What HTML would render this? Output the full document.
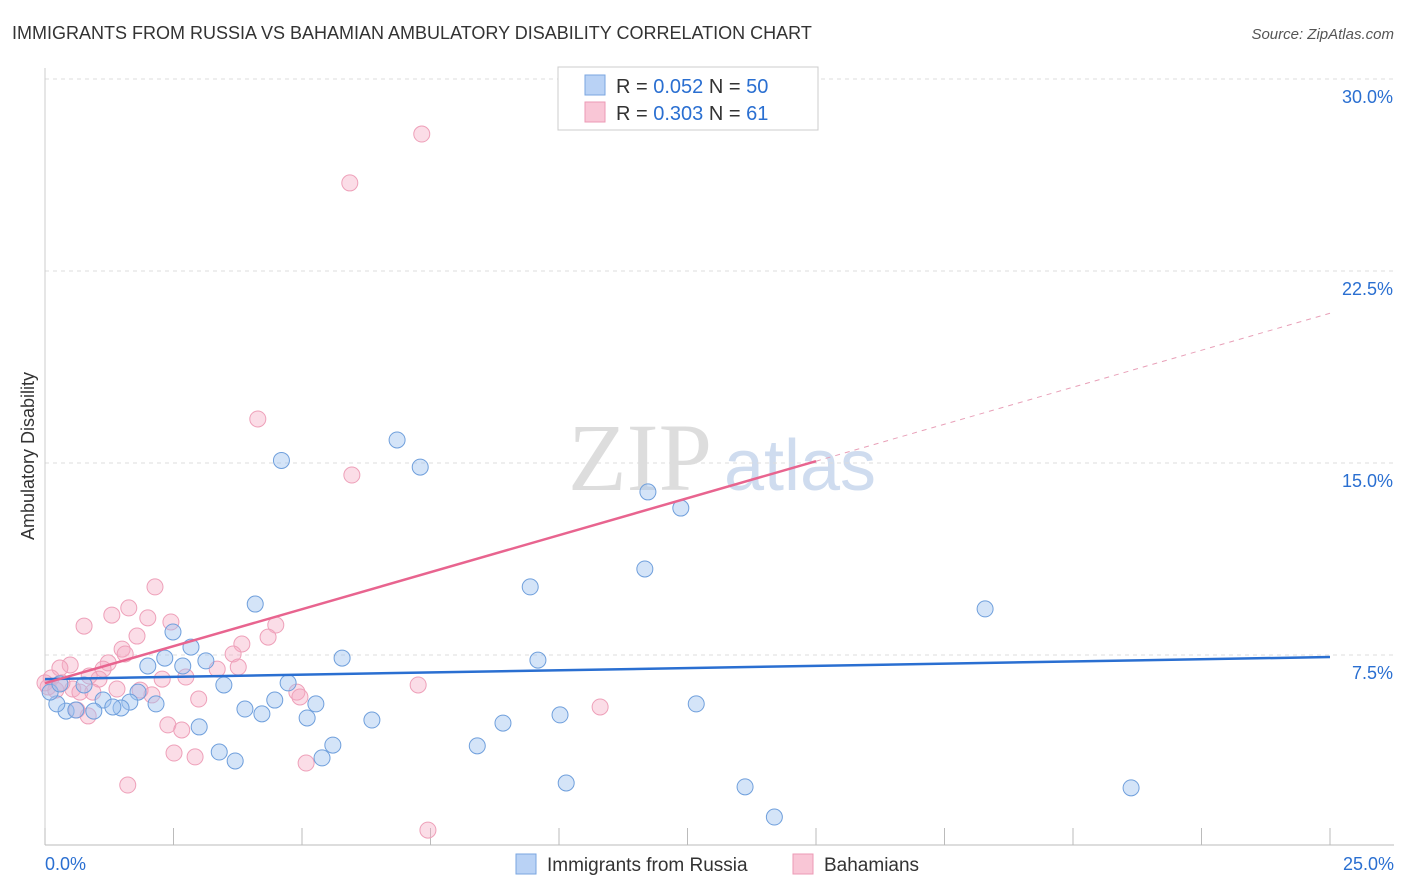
<!DOCTYPE html>
<html><head><meta charset="utf-8"><style>
body{margin:0;background:#fff;font-family:"Liberation Sans",sans-serif}
svg{display:block}
</style></head><body>
<svg id="chart" width="1406" height="892">
<text x="12" y="39" font-size="18" fill="#333">IMMIGRANTS FROM RUSSIA VS BAHAMIAN AMBULATORY DISABILITY CORRELATION CHART</text>
<text x="1394" y="39" font-size="15" fill="#555" font-style="italic" text-anchor="end">Source: ZipAtlas.com</text>
<text x="640" y="490" font-size="96" fill="#ddd" font-family="Liberation Serif" text-anchor="middle">ZIP</text>
<text x="800" y="490" font-size="72" fill="#cfdcef" text-anchor="middle">atlas</text>
<text transform="translate(34,456) rotate(-90)" font-size="18" fill="#333" text-anchor="middle">Ambulatory Disability</text>
<g id="grid"></g><g id="marks"></g>
<g>
<rect x="558" y="67" width="260" height="63" fill="#fff" stroke="#ccc"/>
<rect x="585" y="75" width="20" height="20" fill="#b9d2f5" stroke="#7aa6e0"/>
<rect x="585" y="102" width="20" height="20" fill="#f9c6d6" stroke="#ec9ab5"/>
<text x="616" y="93" font-size="20" fill="#333">R = <tspan fill="#2a6fd1">0.052</tspan>   N = <tspan fill="#2a6fd1">50</tspan></text>
<text x="616" y="120" font-size="20" fill="#333">R = <tspan fill="#2a6fd1">0.303</tspan>   N =  <tspan fill="#2a6fd1">61</tspan></text>
</g>
<g>
<rect x="516" y="854" width="20" height="20" fill="#b9d2f5" stroke="#7aa6e0"/>
<text x="547" y="871" font-size="19" fill="#333">Immigrants from Russia</text>
<rect x="793" y="854" width="20" height="20" fill="#f9c6d6" stroke="#ec9ab5"/>
<text x="824" y="871" font-size="19" fill="#333">Bahamians</text>
</g>
</svg>
<script>
const yTicks=[7.5,15,22.5,30];
const xTickLabels=["0.0%","25.0%"];
const russiaX=[4.6,6.85,7.3,11.73,12.37,9.44,11.67,18.29,4.09,2.49,2.84,2.33,2.0,2.68,3.13,3.48,5.78,9.59,4.73,4.47,3.89,4.22,5.1,5.27,6.36,8.91,10.02,12.67,5.6,5.39,8.41,3.39,3.7,3.0,10.14,13.62,21.13,14.19,2.16,1.81,1.65,1.13,1.48,1.32,0.95,0.76,0.41,0.6,0.23,0.1,0.29];
const russiaY=[15.1,15.9,14.84,13.87,13.24,10.16,10.86,9.3,9.49,8.4,7.81,7.38,7.07,7.07,7.27,6.33,7.38,7.3,6.41,5.74,5.39,5.2,5.04,5.59,4.96,4.84,5.16,5.59,3.98,3.48,3.95,3.71,3.36,4.69,2.5,2.35,2.31,1.17,5.59,6.05,5.66,5.74,5.43,5.47,5.31,6.33,5.31,5.35,5.59,6.05,6.37];
const bahamasX=[7.33,5.93,4.14,5.97,2.14,1.63,1.3,2.0,2.45,0.76,1.79,4.49,4.34,1.5,1.56,3.83,3.66,3.76,1.23,1.13,3.35,2.74,2.28,1.05,0.86,0.49,0.29,0.12,0.06,0.21,0.54,0.68,0.93,1.4,1.85,2.08,2.99,4.9,4.96,7.26,10.8,0.62,0.84,2.39,2.66,2.51,2.92,5.08,1.61,7.45,0.33,0.0];
const bahamasY=[27.85,25.94,16.72,14.53,10.16,9.34,9.06,8.95,8.79,8.63,8.24,8.67,8.2,7.73,7.54,7.93,7.54,7.03,7.19,6.95,6.95,6.64,6.56,6.56,6.68,7.11,6.99,6.6,6.25,6.13,6.17,6.05,6.05,6.17,6.13,5.94,5.78,6.05,5.86,6.33,5.47,5.35,5.12,4.77,4.57,3.67,3.52,3.28,2.42,0.66,6.41,6.41];
const russiaLine=[6.56,7.42];
const bahamasLine=[6.4,20.85];
const NS="http://www.w3.org/2000/svg";
const X=v=>45+v*51.4, Y=v=>847-v*25.6;
function mk(t,a,p){const e=document.createElementNS(NS,t);for(const k in a)e.setAttribute(k,a[k]);p.appendChild(e);return e;}
const g=document.getElementById('grid'),m=document.getElementById('marks');
yTicks.forEach(t=>{const l=mk('line',{x1:45,x2:1394,y1:Y(t),y2:Y(t),stroke:'#ddd','stroke-dasharray':'4,4'},g);


const tx=mk('text',{x:1393,y:Y(t)+24,'font-size':18,fill:'#2a6fd1','text-anchor':'end'},g);tx.textContent=t.toFixed(1)+'%';

});
const ax=mk('line',{x1:45,x2:1394,y1:845,y2:845,stroke:'#bbb'},g);


const ay=mk('line',{x1:45,x2:45,y1:68,y2:845,stroke:'#ccc'},g);


for(let i=0;i<=10;i++){const t=mk('line',{x1:X(i*2.5),x2:X(i*2.5),y1:828,y2:845,stroke:'#bbb'},g);

}
[[0,'start',45],[25,'end',1394]].forEach((d,i)=>{const t=mk('text',{x:d[2],y:870,'font-size':18,fill:'#2a6fd1','text-anchor':d[1]},g);t.textContent=xTickLabels[i];

});
bahamasX.forEach((x,i)=>{const c=mk('circle',{cx:X(x),cy:Y(bahamasY[i]),r:8,fill:'rgba(246,170,196,0.4)',stroke:'#eea0b9','stroke-width':1},m);

});
russiaX.forEach((x,i)=>{const c=mk('circle',{cx:X(x),cy:Y(russiaY[i]),r:8,fill:'rgba(160,195,240,0.45)',stroke:'#6f9fdc','stroke-width':1},m);

});
const rl=mk('line',{x1:X(0),y1:Y(russiaLine[0]),x2:X(25),y2:Y(russiaLine[1]),stroke:'#2a6fd1','stroke-width':2.5},m);


const bAt=x=>bahamasLine[0]+(bahamasLine[1]-bahamasLine[0])*x/25;
const bl=mk('line',{x1:X(0),y1:Y(bAt(0)),x2:X(15),y2:Y(bAt(15)),stroke:'#e8648f','stroke-width':2.5},m);


const bd=mk('line',{x1:X(15),y1:Y(bAt(15)),x2:X(25),y2:Y(bAt(25)),stroke:'#e8a0b8','stroke-width':1,'stroke-dasharray':'5,5'},m);


</script>
</body></html>
